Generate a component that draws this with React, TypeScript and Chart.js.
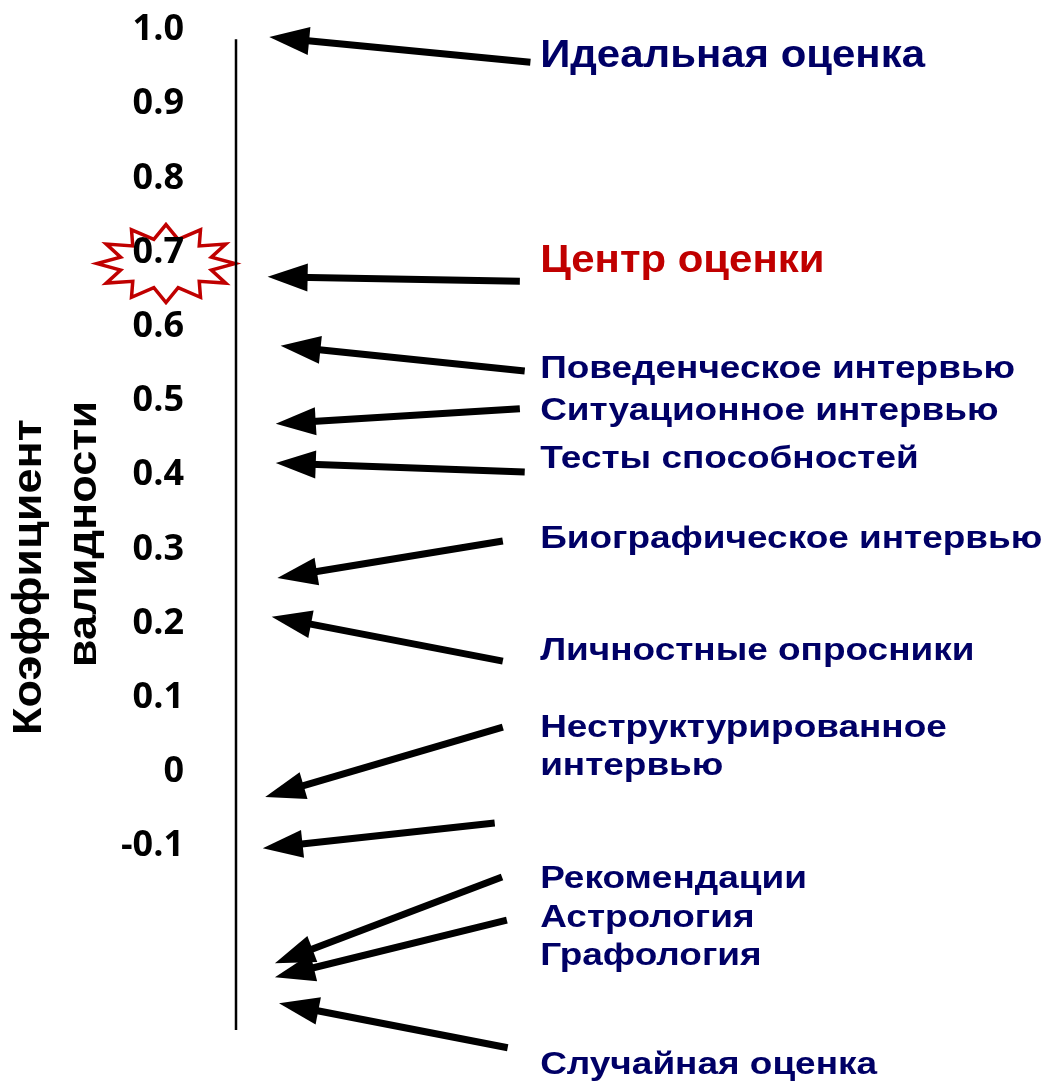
import { useEffect, useRef } from 'react';
import { Chart, registerables } from 'chart.js';

Chart.register(...registerables);

// Validity axis (tick values and their printed labels)
const TICK_VALUES = [1.0, 0.9, 0.8, 0.7, 0.6, 0.5, 0.4, 0.3, 0.2, 0.1, 0, -0.1];
const TICK_LABELS = ['1.0', '0.9', '0.8', '0.7', '0.6', '0.5', '0.4', '0.3', '0.2', '0.1', '0', '-0.1'];
const HIGHLIGHT_TICK = '0.7';
const AXIS_TITLE = ['Коэффициент', 'валидности'];

// Extent of the drawn validity axis line (validity units)
const AXIS_LINE_TOP = 0.982;
const AXIS_LINE_BOTTOM = -0.353;

// Arrows: tail (near the label) -> tip (pointing at the axis). x in 0..100 units, y in validity units
const ARROW_TAIL_X = [36.3, 35.0, 35.6, 35.0, 35.6, 32.9, 32.9, 32.9, 31.9, 32.8, 33.4, 33.5];
const ARROW_TAIL_Y = [0.951, 0.656, 0.535, 0.484, 0.399, 0.306, 0.144, 0.055, -0.074, -0.147, -0.205, -0.377];
const ARROW_TIP_X = [4.1, 3.9, 5.5, 4.9, 4.9, 5.1, 4.4, 3.6, 3.3, 4.8, 4.8, 5.3];
const ARROW_TIP_Y = [0.985, 0.662, 0.569, 0.464, 0.411, 0.256, 0.204, -0.039, -0.108, -0.263, -0.282, -0.317];

// Method labels (baseline positions in validity units)
const LABEL_TEXTS = [
  'Идеальная оценка',
  'Центр оценки',
  'Поведенческое интервью',
  'Ситуационное интервью',
  'Тесты способностей',
  'Биографическое интервью',
  'Личностные опросники',
  'Неструктурированное',
  'интервью',
  'Рекомендации',
  'Астрология',
  'Графология',
  'Случайная оценка',
];
const LABEL_Y = [0.945, 0.668, 0.526, 0.469, 0.404, 0.296, 0.146, 0.042, -0.0094, -0.162, -0.214, -0.266, -0.412];
const LABEL_X = 37.5;

const Y_MIN = -0.4218;
const Y_MAX = 1.035;

const NAVY = '#000066';
const RED = '#c00000';
const HEAD_LEN = 40;
const HEAD_HALF = 14;

export default function App() {
  const canvasRef = useRef<HTMLCanvasElement | null>(null);

  useEffect(() => {
    const canvas = canvasRef.current;
    if (!canvas) return;

    const arrowCount = ARROW_TIP_X.length;

    const datasets: any[] = [];
    for (let i = 0; i < arrowCount; i++) {
      datasets.push({
        label: 'arrow' + i,
        data: [
          { x: ARROW_TAIL_X[i], y: ARROW_TAIL_Y[i] },
          { x: ARROW_TIP_X[i], y: ARROW_TIP_Y[i] },
        ],
        borderColor: '#000',
        borderWidth: 7,
        borderCapStyle: 'butt',
        pointRadius: 0,
        fill: false,
        clip: false,
        tension: 0,
      });
    }
    datasets.push({
      label: 'axis',
      data: [
        { x: 0, y: AXIS_LINE_TOP },
        { x: 0, y: AXIS_LINE_BOTTOM },
      ],
      borderColor: '#000',
      borderWidth: 2.5,
      pointRadius: 0,
      fill: false,
      clip: false,
    });

    const starPlugin = {
      id: 'star',
      beforeDraw(chart: any) {
        const ctx = chart.ctx;
        const y = chart.scales.y;
        const idx = TICK_LABELS.indexOf(HIGHLIGHT_TICK);
        const cy = y.getPixelForValue(TICK_VALUES[idx]) + 15;
        const cx = chart.chartArea.left - 70;
        const spikes = 12;
        ctx.save();
        ctx.beginPath();
        for (let k = 0; k < spikes * 2; k++) {
          const a = -Math.PI / 2 + (k * Math.PI) / spikes;
          const outer = k % 2 === 0;
          const rx = outer ? 69 : 47;
          const ry = outer ? 39 : 25;
          const px = cx + rx * Math.cos(a);
          const py = cy + ry * Math.sin(a);
          if (k === 0) ctx.moveTo(px, py);
          else ctx.lineTo(px, py);
        }
        ctx.closePath();
        ctx.fillStyle = '#fff';
        ctx.fill();
        ctx.lineWidth = 3.5;
        ctx.strokeStyle = RED;
        ctx.lineJoin = 'miter';
        ctx.stroke();
        ctx.restore();
      },
    };

    const arrowPlugin = {
      id: 'arrows',
      beforeDatasetDraw(chart: any, args: any) {
        if (args.index >= arrowCount) return;
        const ctx = chart.ctx;
        const meta = chart.getDatasetMeta(args.index);
        const tip = meta.data[1];
        ctx.save();
        ctx.beginPath();
        ctx.rect(0, 0, chart.width, chart.height);
        ctx.arc(tip.x, tip.y, HEAD_LEN * 0.8, 0, Math.PI * 2);
        ctx.clip('evenodd');
      },
      afterDatasetDraw(chart: any, args: any) {
        if (args.index >= arrowCount) return;
        chart.ctx.restore();
      },
      afterDatasetsDraw(chart: any) {
        const ctx = chart.ctx;
        ctx.save();
        ctx.fillStyle = '#000';
        for (let i = 0; i < arrowCount; i++) {
          const meta = chart.getDatasetMeta(i);
          const p0 = meta.data[0];
          const p1 = meta.data[1];
          const ang = Math.atan2(p1.y - p0.y, p1.x - p0.x);
          const c = Math.cos(ang);
          const s = Math.sin(ang);
          const bx = p1.x - HEAD_LEN * c;
          const by = p1.y - HEAD_LEN * s;
          ctx.beginPath();
          ctx.moveTo(p1.x, p1.y);
          ctx.lineTo(bx - HEAD_HALF * s, by + HEAD_HALF * c);
          ctx.lineTo(bx + HEAD_HALF * s, by - HEAD_HALF * c);
          ctx.closePath();
          ctx.fill();
        }
        ctx.restore();
      },
    };

    const textPlugin = {
      id: 'texts',
      afterDraw(chart: any) {
        const ctx = chart.ctx;
        const xs = chart.scales.x;
        const ys = chart.scales.y;
        ctx.save();
        ctx.textAlign = 'left';
        ctx.textBaseline = 'alphabetic';
        const x = xs.getPixelForValue(LABEL_X);
        LABEL_TEXTS.forEach((t, i) => {
          const big = i <= 1;
          ctx.font = `bold ${big ? 39 : 32}px "Liberation Sans", Arial, sans-serif`;
          ctx.fillStyle = i === 1 ? RED : NAVY;
          const sx = big ? 1.075 : 1.155;
          ctx.save();
          ctx.translate(x, ys.getPixelForValue(LABEL_Y[i]));
          ctx.scale(sx, 1);
          ctx.fillText(t, 0, 0);
          ctx.restore();
        });
        // axis title, two rotated lines
        ctx.fillStyle = '#000';
        ctx.font = 'bold 41px "Liberation Sans", Arial, sans-serif';
        ctx.textBaseline = 'middle';
        ctx.textAlign = 'center';
        const centers = [577, 534];
        const xsT = [30, 85];
        AXIS_TITLE.forEach((t, i) => {
          ctx.save();
          ctx.translate(xsT[i], centers[i]);
          ctx.rotate(-Math.PI / 2);
          ctx.scale(1.1, 1);
          ctx.fillText(t, 0, 0);
          ctx.restore();
        });
        ctx.restore();
      },
    };

    const chart = new Chart(canvas, {
      type: 'line',
      data: { datasets },
      plugins: [starPlugin, arrowPlugin, textPlugin],
      options: {
        animation: false,
        responsive: true,
        maintainAspectRatio: false,
        layout: { padding: 0 },
        events: [],
        plugins: {
          legend: { display: false },
          tooltip: { enabled: false },
          title: { display: false },
        },
        scales: {
          x: { type: 'linear', min: 0, max: 100, display: false },
          y: {
            type: 'linear',
            position: 'left',
            min: Y_MIN,
            max: Y_MAX,
            grid: { display: false, drawTicks: false },
            border: { display: false },
            afterBuildTicks: (s: any) => {
              s.ticks = TICK_VALUES.map((v) => ({ value: v }));
            },
            afterFit: (s: any) => {
              s.width = 236;
              s.paddingTop = 0;
              s.paddingBottom = 0;
            },
            ticks: {
              autoSkip: false,
              padding: 52,
              labelOffset: 4,
              color: '#000',
              font: { family: '"Open Sans", sans-serif', weight: 'bold', size: 36 },
              callback: (_v: any, i: number) => TICK_LABELS[i],
            },
          },
        },
      } as any,
    });

    return () => chart.destroy();
  }, []);

  return (
    <div style={{ position: 'fixed', left: 0, top: 0, width: '1047px', height: '1081px', background: '#fff' }}>
      <canvas ref={canvasRef} />
    </div>
  );
}
